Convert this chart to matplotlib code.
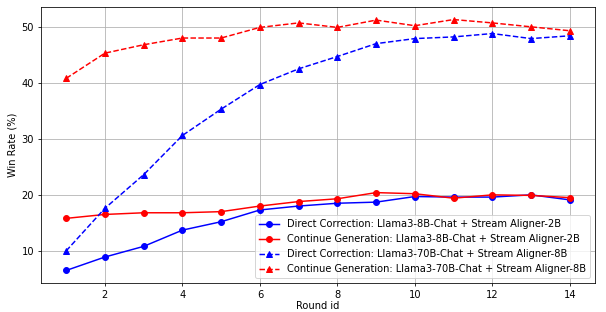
import matplotlib
matplotlib.use("Agg")
import matplotlib.pyplot as plt

rounds = list(range(1, 15))
direct_8b = [6.5, 8.9, 10.8, 13.7, 15.2, 17.3, 18.0, 18.5, 18.7, 19.7, 19.6, 19.6, 20.0, 19.1]
continue_8b = [15.8, 16.5, 16.8, 16.8, 17.0, 18.0, 18.8, 19.3, 20.4, 20.2, 19.4, 20.0, 19.9, 19.5]
direct_70b = [10.0, 17.6, 23.6, 30.6, 35.3, 39.7, 42.5, 44.7, 47.0, 47.9, 48.2, 48.8, 47.9, 48.4]
continue_70b = [40.8, 45.3, 46.8, 48.0, 48.0, 49.9, 50.7, 49.9, 51.2, 50.2, 51.3, 50.7, 50.0, 49.3]

labels = [
    "Direct Correction: Llama3-8B-Chat + Stream Aligner-2B",
    "Continue Generation: Llama3-8B-Chat + Stream Aligner-2B",
    "Direct Correction: Llama3-70B-Chat + Stream Aligner-8B",
    "Continue Generation: Llama3-70B-Chat + Stream Aligner-8B",
]

W, H = 606, 312
fig = plt.figure(figsize=(W/71, H/71), dpi=71)
ax = fig.add_axes([41/W, 1 - 283/H, (595 - 41)/W, (283 - 7)/H])
ax.plot(rounds, direct_8b, 'o-', color='blue', label=labels[0])
ax.plot(rounds, continue_8b, 'o-', color='red', label=labels[1])
ax.plot(rounds, direct_70b, '^--', color='blue', label=labels[2])
ax.plot(rounds, continue_70b, '^--', color='red', label=labels[3])
ax.set_xlabel("Round id", labelpad=1)
ax.set_ylabel("Win Rate (%)")
ax.grid(True)
ax.legend(loc='lower right')
fig.savefig("out.png", dpi=71)
